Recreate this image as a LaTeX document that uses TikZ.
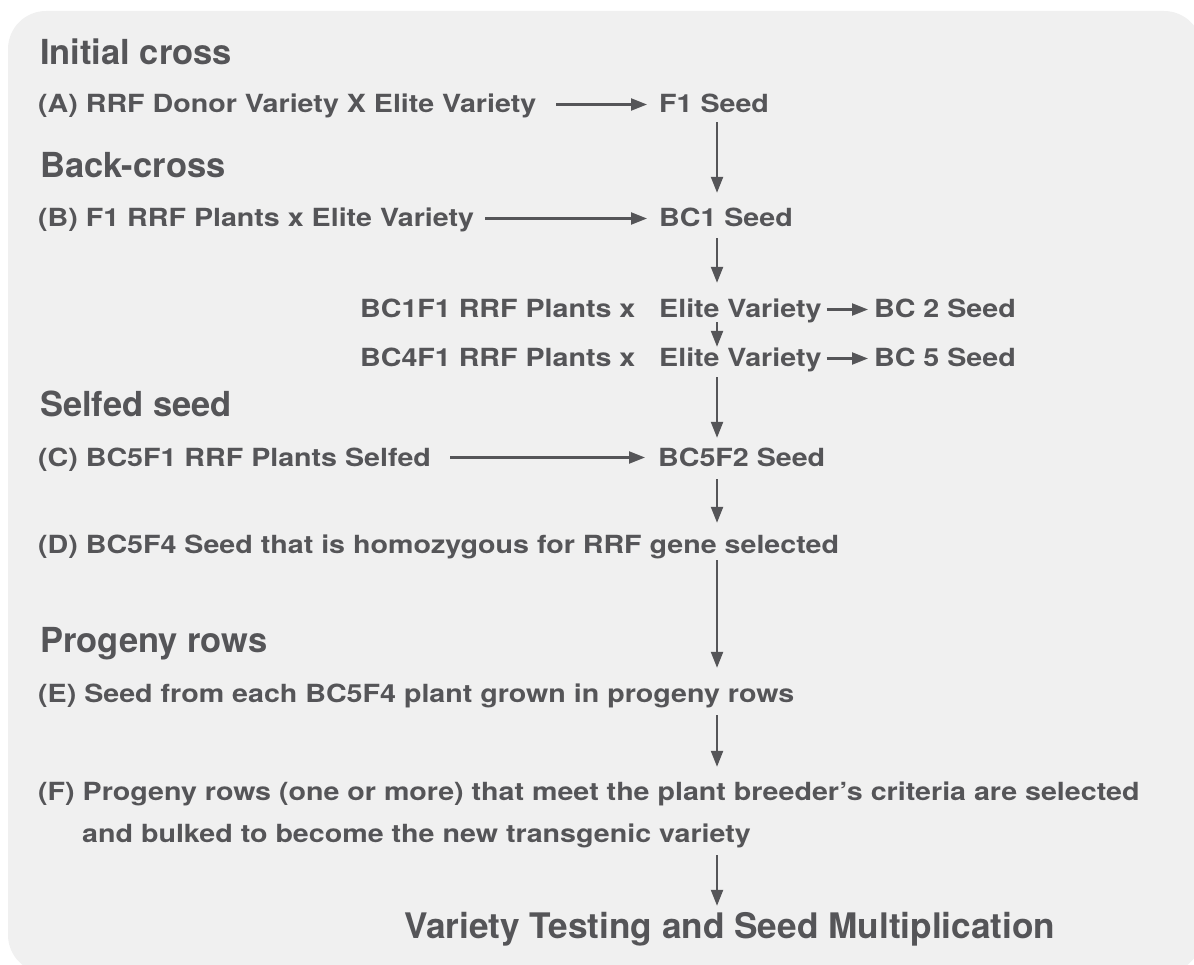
\documentclass[tikz,border=0pt]{standalone}
\usepackage{fontspec}
\setmainfont{TeX Gyre Heros}
\newfontfamily\bodyfont[FakeStretch=1.145]{TeX Gyre Heros}
\newfontfamily\headfont{TeX Gyre Heros}
\usetikzlibrary{arrows.meta}
\definecolor{tc}{RGB}{85,85,88}
\definecolor{bg}{RGB}{240,240,240}
\begin{document}
\begin{tikzpicture}[x=1pt,y=-1pt,
  body/.style={font=\bodyfont\bfseries\fontsize{25}{30}\selectfont, text=tc, inner sep=0pt, text height=17pt, text depth=0pt, anchor=base west},
  head/.style={font=\headfont\bfseries\fontsize{34.5}{40}\selectfont, text=tc, inner sep=0pt, text height=24pt, text depth=0pt, anchor=base west},
  arr/.style={draw=tc, line width=2.3pt, -{Triangle[length=16pt,width=12pt]}}]
\useasboundingbox (0,0) rectangle (1194,965);
\clip (0,0) rectangle (1194,965);
\fill[bg, rounded corners=38pt] (8,11) rectangle (1202,973);
\coordinate (sp) at (717,0);
% headings
\node[head] (h1) at (40,65) {Initial cross};
\node[head] (h2) at (40,178) {Back-cross};
\node[head] (h3) at (40,417) {Selfed seed};
\node[head] (h4) at (40,652) {Progeny rows};
% body texts
\node[body] (a) at (38,113) {(A) RRF Donor Variety X Elite Variety};
\node[body] (f1) at (659,113) {F1 Seed};
\node[body] (b) at (38,227) {(B) F1 RRF Plants x Elite Variety};
\node[body] (bc1) at (659,227) {BC1 Seed};
\node[body] (r1l) at (360,318) {BC1F1 RRF Plants x};
\node[body] (r1e) at (659,318) {Elite Variety};
\node[body] (bc2) at (874,318) {BC 2 Seed};
\node[body] (r2l) at (360,367) {BC4F1 RRF Plants x};
\node[body] (r2e) at (659,367) {Elite Variety};
\node[body] (bc5) at (874,367) {BC 5 Seed};
\node[body] (c) at (38,466) {(C) BC5F1 RRF Plants Selfed};
\node[body] (bc5f2) at (658,466) {BC5F2 Seed};
\node[body] (d) at (38,553) {(D) BC5F4 Seed that is homozygous for RRF gene selected};
\node[body] (e) at (38,702) {(E) Seed from each BC5F4 plant grown in progeny rows};
\node[body] (f) at (38,800) {(F) Progeny rows (one or more) that meet the plant breeder’s criteria are selected};
\node[body] (f2) at (82,842) {and bulked to become the new transgenic variety};
\node[head, font=\headfont\bfseries\fontsize{35.2}{40}\selectfont, text height=23pt] (fin) at (404,938) {Variety Testing and Seed Multiplication};
% horizontal arrows
\draw[arr, shorten <=20pt, shorten >=12pt] (a.east) -- (a.east -| f1.west);
\draw[arr, shorten <=11pt, shorten >=12pt] (b.east) -- (b.east -| bc1.west);
\draw[arr, shorten <=5pt, shorten >=6pt] (r1e.east) -- (r1e.east -| bc2.west);
\draw[arr, shorten <=5pt, shorten >=6pt] (r2e.east) -- (r2e.east -| bc5.west);
\draw[arr, shorten <=19pt, shorten >=13pt] (c.east) -- (c.east -| bc5f2.west);
% vertical arrows
\draw[arr, shorten <=9pt, shorten >=17pt] (f1.south -| sp) -- (bc1.north -| sp);
\draw[arr, shorten <=11pt, shorten >=18pt] (bc1.south -| sp) -- (r1e.north -| sp);
\draw[arr, shorten <=4pt, shorten >=3pt] (r1e.south -| sp) -- (r2e.north -| sp);
\draw[arr, shorten <=10pt, shorten >=11pt] (r2e.south -| sp) -- (bc5f2.north -| sp);
\draw[arr, shorten <=13pt, shorten >=13pt] (bc5f2.south -| sp) -- (d.north -| sp);
\draw[arr, shorten <=7pt, shorten >=17pt] (d.south -| sp) -- (e.north -| sp);
\draw[arr, shorten <=13pt, shorten >=16pt] (e.south -| sp) -- (f.north -| sp);
\draw[arr, shorten <=13pt, shorten >=9pt] (f2.south -| sp) -- (fin.north -| sp);
\end{tikzpicture}
\end{document}
